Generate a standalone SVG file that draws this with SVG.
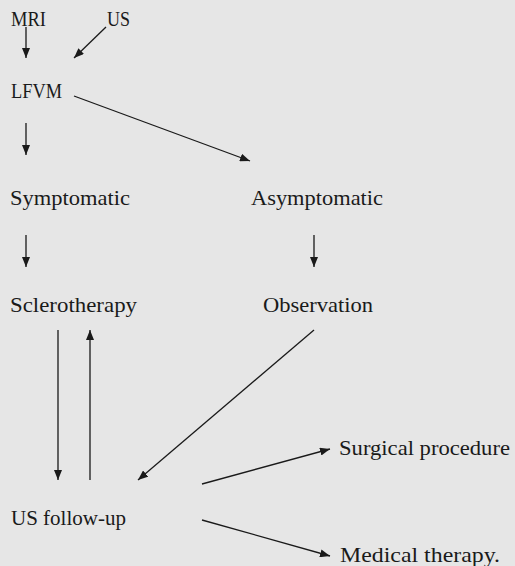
<svg xmlns="http://www.w3.org/2000/svg" width="515" height="566" viewBox="0 0 515 566">
<style>
text{font-family:"Liberation Serif","DejaVu Serif",serif;font-size:22px;fill:#1a1a1a}
.c line{stroke:#1a1a1a;stroke-width:1.3;marker-end:url(#ah)}
</style>
<defs>
<marker id="ah" markerWidth="10" markerHeight="8" refX="10" refY="4" orient="auto" markerUnits="userSpaceOnUse">
<path d="M0,0 L10,4 L0,8 Z" fill="#1a1a1a"/>
</marker>
</defs>
<rect width="515" height="566" fill="#e6e6e6"/>
<g id="mri"><text x="11" y="26" textLength="35" lengthAdjust="spacingAndGlyphs">MRI</text></g>
<g id="us"><text x="107" y="26" textLength="23" lengthAdjust="spacingAndGlyphs">US</text></g>
<g id="lfvm"><text x="11" y="98" textLength="51" lengthAdjust="spacingAndGlyphs">LFVM</text></g>
<g id="symptomatic"><text x="10" y="205" textLength="120" lengthAdjust="spacingAndGlyphs">Symptomatic</text></g>
<g id="asymptomatic"><text x="251" y="205" textLength="132" lengthAdjust="spacingAndGlyphs">Asymptomatic</text></g>
<g id="sclerotherapy"><text x="10" y="312" textLength="127" lengthAdjust="spacingAndGlyphs">Sclerotherapy</text></g>
<g id="observation"><text x="263" y="312" textLength="110" lengthAdjust="spacingAndGlyphs">Observation</text></g>
<g id="usfollowup"><text x="11" y="525" textLength="115" lengthAdjust="spacingAndGlyphs">US follow-up</text></g>
<g id="surgical"><text x="339" y="455" textLength="171" lengthAdjust="spacingAndGlyphs">Surgical procedure</text></g>
<g id="medical"><text x="340" y="562" textLength="160" lengthAdjust="spacingAndGlyphs">Medical therapy.</text></g>
<g class="c" id="connectors">
<line x1="26" y1="27" x2="26" y2="58"/>
<line x1="106" y1="27" x2="74" y2="58"/>
<line x1="74" y1="96" x2="250" y2="161"/>
<line x1="26" y1="123" x2="26" y2="155"/>
<line x1="26" y1="235" x2="26" y2="267"/>
<line x1="314" y1="235" x2="314" y2="267"/>
<line x1="58" y1="330" x2="58" y2="480"/>
<line x1="90" y1="480" x2="90" y2="330"/>
<line x1="314" y1="330" x2="138" y2="480"/>
<line x1="202" y1="484" x2="330" y2="449"/>
<line x1="202" y1="520" x2="330" y2="556"/>
</g>
</svg>
